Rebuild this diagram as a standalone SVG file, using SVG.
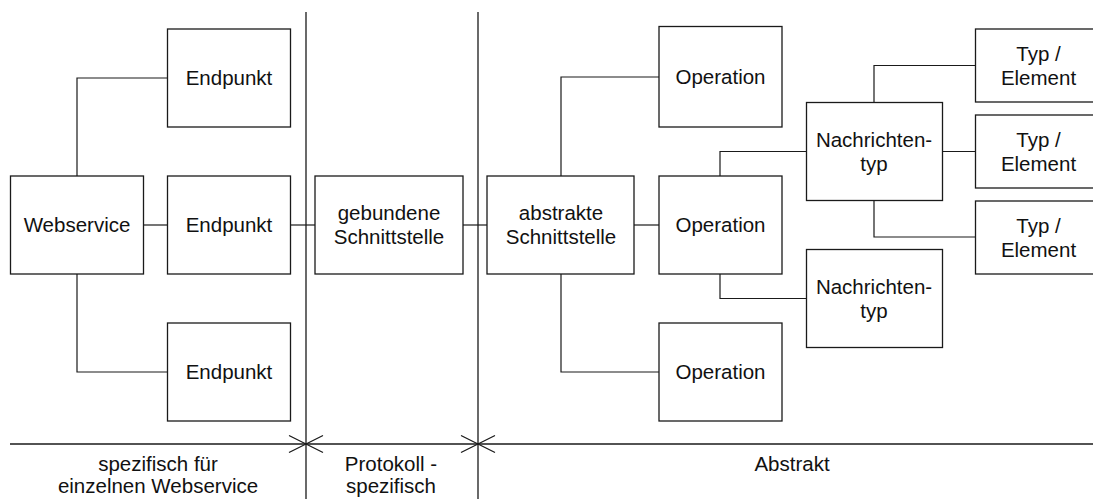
<svg xmlns="http://www.w3.org/2000/svg" width="1093" height="499" viewBox="0 0 1093 499">
  <style>
    .box { fill: #ffffff; stroke: #1a1a1a; stroke-width: 1.3; }
    .wire { fill: none; stroke: #1a1a1a; stroke-width: 1.2; }
    .rule { fill: none; stroke: #1a1a1a; stroke-width: 1.3; }
    text { font-family: "Liberation Sans", Arial, sans-serif; font-size: 20.5px; fill: #111111; text-anchor: middle; }
  </style>

  <rect width="1093" height="499" fill="#ffffff"/>

  <!-- section dividers and baseline with crossing marks -->
  <g id="sections">
    <line class="rule" x1="306" y1="12" x2="306" y2="499"/>
    <line class="rule" x1="478" y1="12" x2="478" y2="499"/>
    <line class="rule" x1="10" y1="444" x2="1093" y2="444"/>
    <path class="rule" d="M289,435.5 L323,452.5 M289,452.5 L323,435.5"/>
    <path class="rule" d="M461,435.5 L495,452.5 M461,452.5 L495,435.5"/>
    <text x="158" y="470.5">spezifisch für</text>
    <text x="158" y="493">einzelnen Webservice</text>
    <text x="391" y="470.5">Protokoll -</text>
    <text x="391" y="493">spezifisch</text>
    <text x="792" y="470.5">Abstrakt</text>
  </g>

  <!-- connectors -->
  <g id="connectors">
    <path class="wire" d="M77,176 V78 H167"/>
    <path class="wire" d="M143,225 H167"/>
    <path class="wire" d="M77,274 V372 H167"/>
    <path class="wire" d="M290,225 H315"/>
    <path class="wire" d="M463,225 H487"/>
    <path class="wire" d="M561,176 V77 H659"/>
    <path class="wire" d="M634,225 H659"/>
    <path class="wire" d="M561,274 V372 H659"/>
    <path class="wire" d="M720,176 V151.5 H806"/>
    <path class="wire" d="M720,274 V298.5 H806"/>
    <path class="wire" d="M874,102 V65.5 H975"/>
    <path class="wire" d="M942,151.5 H975"/>
    <path class="wire" d="M874,200 V237 H975"/>
  </g>

  <g id="webservice">
    <rect class="box" x="10.5" y="176" width="133" height="98"/>
    <text x="77" y="232">Webservice</text>
  </g>
  <g id="endpunkt-1">
    <rect class="box" x="167.5" y="29" width="123" height="98"/>
    <text x="229" y="85">Endpunkt</text>
  </g>
  <g id="endpunkt-2">
    <rect class="box" x="167.5" y="176" width="123" height="98"/>
    <text x="229" y="232">Endpunkt</text>
  </g>
  <g id="endpunkt-3">
    <rect class="box" x="167.5" y="323" width="123" height="98"/>
    <text x="229" y="379">Endpunkt</text>
  </g>

  <g id="gebundene-schnittstelle">
    <rect class="box" x="315" y="176" width="148" height="98"/>
    <text x="389" y="220">gebundene</text>
    <text x="389" y="244">Schnittstelle</text>
  </g>
  <g id="abstrakte-schnittstelle">
    <rect class="box" x="487" y="176" width="147" height="98"/>
    <text x="561" y="220">abstrakte</text>
    <text x="561" y="244">Schnittstelle</text>
  </g>

  <g id="operation-1">
    <rect class="box" x="659" y="26.5" width="123" height="100.5"/>
    <text x="720.5" y="84">Operation</text>
  </g>
  <g id="operation-2">
    <rect class="box" x="659" y="176" width="123" height="98"/>
    <text x="720.5" y="232">Operation</text>
  </g>
  <g id="operation-3">
    <rect class="box" x="659" y="323" width="123" height="98"/>
    <text x="720.5" y="379">Operation</text>
  </g>

  <g id="nachrichtentyp-1">
    <rect class="box" x="806.5" y="102.5" width="136" height="98"/>
    <text x="874" y="146.5">Nachrichten-</text>
    <text x="874" y="170.5">typ</text>
  </g>
  <g id="nachrichtentyp-2">
    <rect class="box" x="806.5" y="249.5" width="136" height="98"/>
    <text x="874" y="293.5">Nachrichten-</text>
    <text x="874" y="317.5">typ</text>
  </g>

  <g id="typ-element-1">
    <rect class="box" x="975.5" y="29" width="126" height="73"/>
    <text x="1038.5" y="61">Typ /</text>
    <text x="1038.5" y="85">Element</text>
  </g>
  <g id="typ-element-2">
    <rect class="box" x="975.5" y="115" width="126" height="73"/>
    <text x="1038.5" y="147">Typ /</text>
    <text x="1038.5" y="171">Element</text>
  </g>
  <g id="typ-element-3">
    <rect class="box" x="975.5" y="201" width="126" height="73"/>
    <text x="1038.5" y="233">Typ /</text>
    <text x="1038.5" y="257">Element</text>
  </g>
</svg>
